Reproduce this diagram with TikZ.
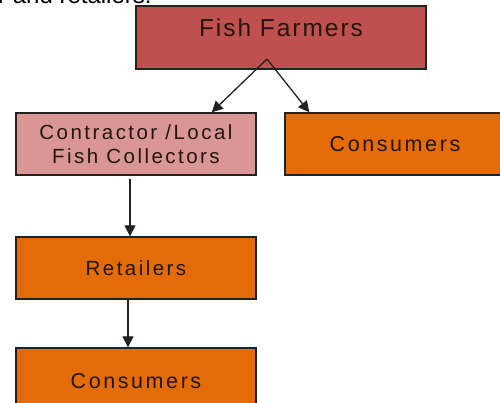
\documentclass[tikz,border=0pt]{standalone}
\usepackage{fontspec}
\setmainfont{Liberation Sans}
\newfontfamily\boxfont[LetterSpace=12]{Liberation Sans}
\newfontfamily\topfont[LetterSpace=8]{Liberation Sans}
\newfontfamily\plainfont{Liberation Sans}
\usetikzlibrary{arrows.meta,calc}
\definecolor{ffred}{HTML}{C0504D}
\definecolor{pinkbox}{HTML}{D99694}
\definecolor{orangebox}{HTML}{E36C09}
\definecolor{boxtext}{HTML}{22160F}
\definecolor{edgecol}{HTML}{222222}
\tikzset{
  flowbox/.style={draw=edgecol, line width=1.4pt, inner sep=0pt, align=center,
    text=boxtext, font=\boxfont\fontsize{20.5}{24}\selectfont},
  flowarrow/.style={draw=edgecol, line width=1.3pt,
    -{Triangle[length=11pt,width=11pt]}}
}
\begin{document}
\begin{tikzpicture}[x=1pt,y=-1pt]
\useasboundingbox (0,0) rectangle (500,402);
\clip (0,0) rectangle (500,402);
\node[anchor=base west, font=\plainfont\fontsize{24}{28}\selectfont, text=black, inner sep=0pt] (intro) at (-2,3.5) {r and retailers.};
\node[flowbox, fill=ffred, minimum width=290pt, minimum height=63pt,
  text height=17pt, text depth=20pt,
  font=\topfont\fontsize{24.5}{28}\selectfont] (ff) at (281,37.5) {Fish Farmers};
\node[flowbox, fill=pinkbox, minimum width=240pt, minimum height=62pt] (col) at (136,144) {Contractor /Local\\Fish Collectors};
\node[flowbox, fill=orangebox, minimum width=220pt, minimum height=62pt,
  font=\boxfont\fontsize{21.5}{24}\selectfont] (con1) at (395,144) {Consumers};
\node[flowbox, fill=orangebox, minimum width=240pt, minimum height=62pt] (ret) at (136,268) {Retailers};
\node[flowbox, fill=orangebox, minimum width=240pt, minimum height=66pt,
  font=\boxfont\fontsize{21.5}{24}\selectfont] (con2) at (136,381) {Consumers};
\coordinate (apex) at (267,59);
\draw[flowarrow] (apex) -- ($(col.north east)+(-45,0)$);
\draw[flowarrow] (apex) -- ($(con1.north west)+(25,0)$);
\draw[flowarrow] ($(col.south)+(-6,3)$) -- ($(ret.north)+(-6,0)$);
\draw[flowarrow] ($(ret.south)+(-8,0)$) -- ($(con2.north)+(-8,0)$);
\end{tikzpicture}
\end{document}
